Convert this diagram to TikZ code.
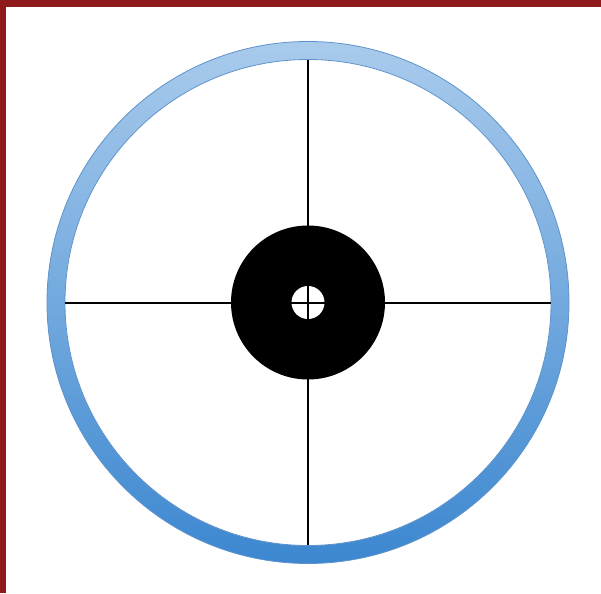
\documentclass[tikz,border=0pt]{standalone}
\usepackage{tikz}
\usetikzlibrary{positioning}

\definecolor{frameRed}{HTML}{8E1A1C}
\definecolor{ringTop}{HTML}{A9CBEC}
\definecolor{ringBottom}{HTML}{3C87D0}
\definecolor{ringEdge}{HTML}{5E93CB}

\begin{document}
\begin{tikzpicture}[
  x=1pt, y=-1pt,
  % Element styles
  frame/.style={fill=frameRed},
  ring/.style={top color=ringTop, bottom color=ringBottom},
  ringline/.style={draw=ringEdge, line width=0.8pt},
  crossline/.style={draw=black, line width=2pt},
  hub/.style={circle, fill=black, inner sep=0pt, minimum size=154pt},
  sight/.style={circle, fill=white, inner sep=0pt, minimum size=33pt}
]

% ── Background and frame ─────────────────────────────────────────────────────
\fill[white] (0,0) rectangle (601,593);
\useasboundingbox (0,0) rectangle (601,593);
\fill[frame] (0,0) rectangle (601,7);
\fill[frame] (0,0) rectangle (6,593);

\coordinate (c) at (308,302.5);

% ── Outer ring ───────────────────────────────────────────────────────────────
\shade[ring] (c) circle (261);
\fill[white] (c) circle (243);
\draw[ringline] (c) circle (261);
\draw[ringline] (c) circle (243);

% ── Crosshair ────────────────────────────────────────────────────────────────
\coordinate (w) at (65,302.5);
\coordinate (e) at (551,302.5);
\coordinate (n) at (308,60);
\coordinate (s) at (308,545);
\draw[crossline] (w) -- (e);
\draw[crossline] (n) -- (s);

% ── Hub and sight ────────────────────────────────────────────────────────────
\node[hub] (hub) at (c) {};
\node[sight] (sight) at (c) {};
\draw[crossline] (sight.west) -- (sight.east);
\draw[crossline] (sight.north) -- (sight.south);

\end{tikzpicture}
\end{document}
